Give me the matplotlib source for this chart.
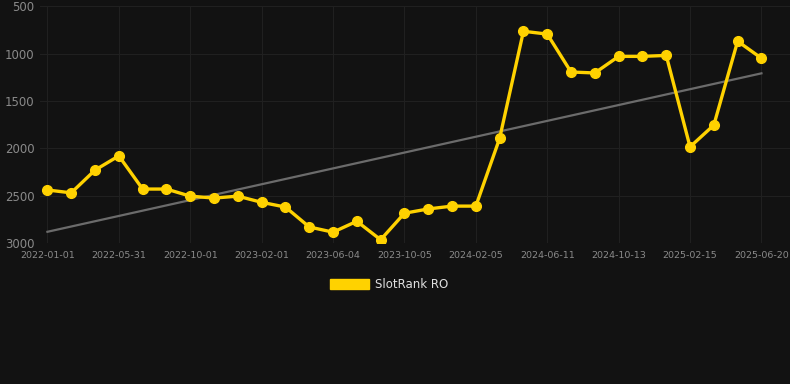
import numpy as np
import matplotlib
matplotlib.use("Agg")
from matplotlib import pyplot as plt
from matplotlib.patches import Patch

# 排名数据（数值越小越好）
rank = [2440, 2470, 2230, 2080, 2430, 2430, 2505, 2525, 2505, 2570,
        2620, 2830, 2885, 2770, 2965, 2685, 2640, 2610, 2610, 1895,
        765, 795, 1195, 1205, 1030, 1030, 1020, 1985, 1755, 870, 1050]
tick_labels = ["2022-01-01", "2022-05-31", "2022-10-01", "2023-02-01", "2023-06-04",
               "2023-10-05", "2024-02-05", "2024-06-11", "2024-10-13", "2025-02-15",
               "2025-06-20"]
y_ticks = [500, 1000, 1500, 2000, 2500, 3000]
series_name = "SlotRank RO"

bg = "#121212"
gold = "#FFD200"

x = np.arange(len(rank))
k, b = np.polyfit(x, rank, 1)  # 趋势线

fig = plt.figure(figsize=(7.9, 3.84), dpi=100, facecolor=bg)
ax = fig.add_axes([0.051, 0.367, 0.949, 0.617], facecolor=bg)

ax.plot(x, k * x + b, color="#6b6b6b", lw=1.6, zorder=2)
ax.plot(x, rank, color=gold, lw=2.4, marker="o", ms=7, zorder=3)

ax.set_ylim(3000, 500)
ax.set_xlim(-0.3, 31.2)
ax.set_yticks(y_ticks)
ax.set_xticks(x[::3])
ax.set_xticklabels(tick_labels)
ax.grid(True, color="#202020", lw=0.8)
ax.set_axisbelow(True)
for s in ax.spines.values():
    s.set_visible(False)
ax.tick_params(axis="y", length=0, pad=4, labelsize=8.5, labelcolor="#8a8a8a")
ax.tick_params(axis="x", length=0, pad=6, labelsize=6.8, labelcolor="#8a8a8a")

fig.legend(handles=[Patch(color=gold, label=series_name)], loc="center",
           bbox_to_anchor=(0.493, 0.258), frameon=False, fontsize=8.5,
           labelcolor="#e0e0e0", handlelength=3.3, handleheight=0.9, handletextpad=0.5)

fig.savefig("out.png", dpi=100, facecolor=bg)
